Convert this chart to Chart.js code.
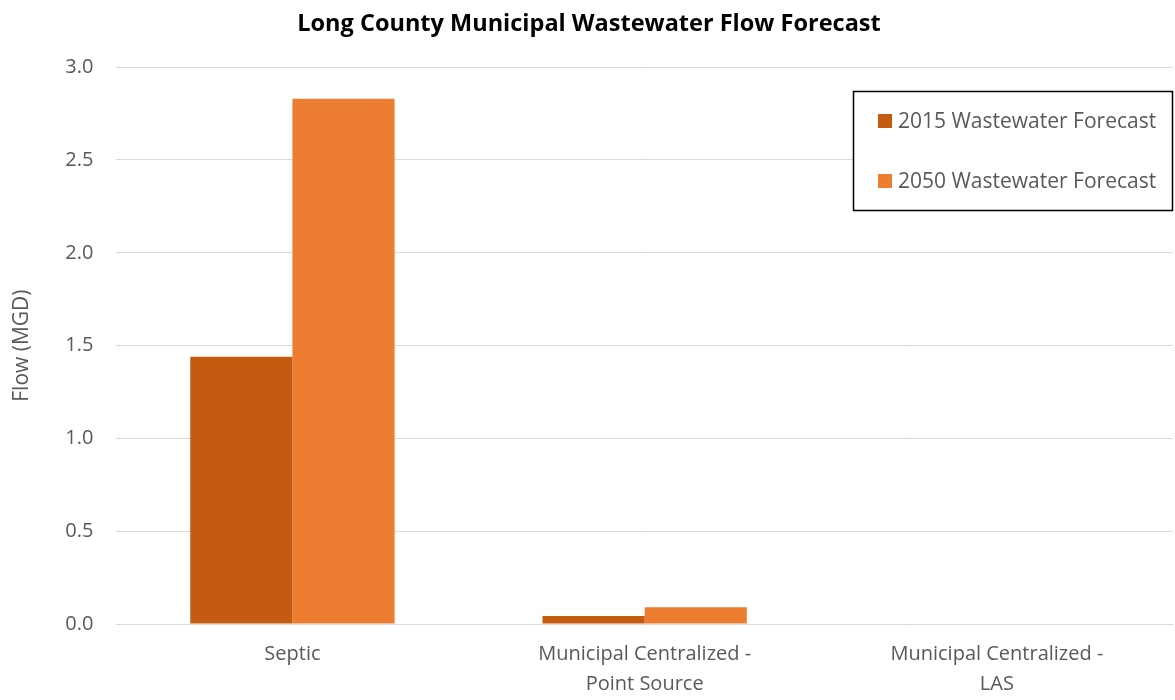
<!DOCTYPE html>
<html lang="en">
<head>
<meta charset="UTF-8" />
<title>Long County Municipal Wastewater Flow Forecast</title>
<script src="https://cdn.jsdelivr.net/npm/chart.js"></script>
<style>
  html, body { margin: 0; padding: 0; background: #fff; }
  #wrap { width: 1175px; height: 700px; }
</style>
</head>
<body>
<div id="wrap"><canvas id="chart" width="1175" height="700"></canvas></div>
<script>
const categories = [["Septic"], ["Municipal Centralized -", "Point Source"], ["Municipal Centralized -", "LAS"]];
const seriesNames = ["2015 Wastewater Forecast", "2050 Wastewater Forecast"];
const flow2015 = [1.44, 0.043, 0];
const flow2050 = [2.83, 0.09, 0];
const yTicks = [0, 0.5, 1, 1.5, 2, 2.5, 3];
const colors = ["#C55A11", "#ED7D31"];
const fontFam = "'Open Sans', sans-serif";

// boxed legend in the upper right of the plot, like the original
const boxLegend = {
  id: "boxLegend",
  afterDraw(chart) {
    const ctx = chart.ctx;
    const x = 853, y = 91, w = 320, h = 120;
    ctx.save();
    ctx.fillStyle = "#fff";
    ctx.fillRect(x, y, w, h);
    ctx.strokeStyle = "#000";
    ctx.lineWidth = 1.5;
    ctx.strokeRect(x + 0.5, y + 0.5, w - 1, h - 1);
    ctx.font = "21px " + fontFam;
    ctx.textBaseline = "middle";
    chart.data.datasets.forEach((ds, i) => {
      const cy = y + 30 + i * 60;
      ctx.fillStyle = ds.backgroundColor;
      ctx.fillRect(x + 25, cy - 7, 14, 14);
      ctx.fillStyle = "#595959";
      ctx.fillText(ds.label, x + 45, cy + 1);
    });
    ctx.restore();
  }
};

new Chart(document.getElementById("chart").getContext("2d"), {
  type: "bar",
  data: {
    labels: categories,
    datasets: [
      { label: seriesNames[0], data: flow2015, backgroundColor: colors[0] },
      { label: seriesNames[1], data: flow2050, backgroundColor: colors[1] }
    ]
  },
  options: {
    responsive: false,
    animation: false,
    layout: { padding: { left: 5, right: 2, top: 0, bottom: -6 } },
    datasets: { bar: { barPercentage: 1, categoryPercentage: 0.58 } },
    plugins: {
      legend: { display: false },
      tooltip: { enabled: false },
      title: {
        display: true,
        text: "Long County Municipal Wastewater Flow Forecast",
        color: "#000",
        font: { family: fontFam, size: 23.5, weight: "bold" },
        padding: { top: 10, bottom: 29 }
      }
    },
    scales: {
      x: {
        grid: { display: false },
        border: { display: false },
        ticks: { color: "#595959", font: { family: fontFam, size: 20, lineHeight: 1.5 }, padding: 7, maxRotation: 0 }
      },
      y: {
        min: 0,
        max: 3,
        afterBuildTicks(axis) { axis.ticks = yTicks.map(v => ({ value: v })); },
        grid: { color: "#d9d9d9", drawTicks: false, lineWidth: 1 },
        border: { display: false },
        ticks: {
          color: "#595959",
          font: { family: fontFam, size: 20 },
          padding: 23,
          callback: v => v.toFixed(1)
        },
        title: {
          display: true,
          text: "Flow (MGD)",
          color: "#595959",
          font: { family: fontFam, size: 21 },
          padding: { bottom: 8 }
        }
      }
    }
  },
  plugins: [boxLegend]
});
</script>
</body>
</html>
